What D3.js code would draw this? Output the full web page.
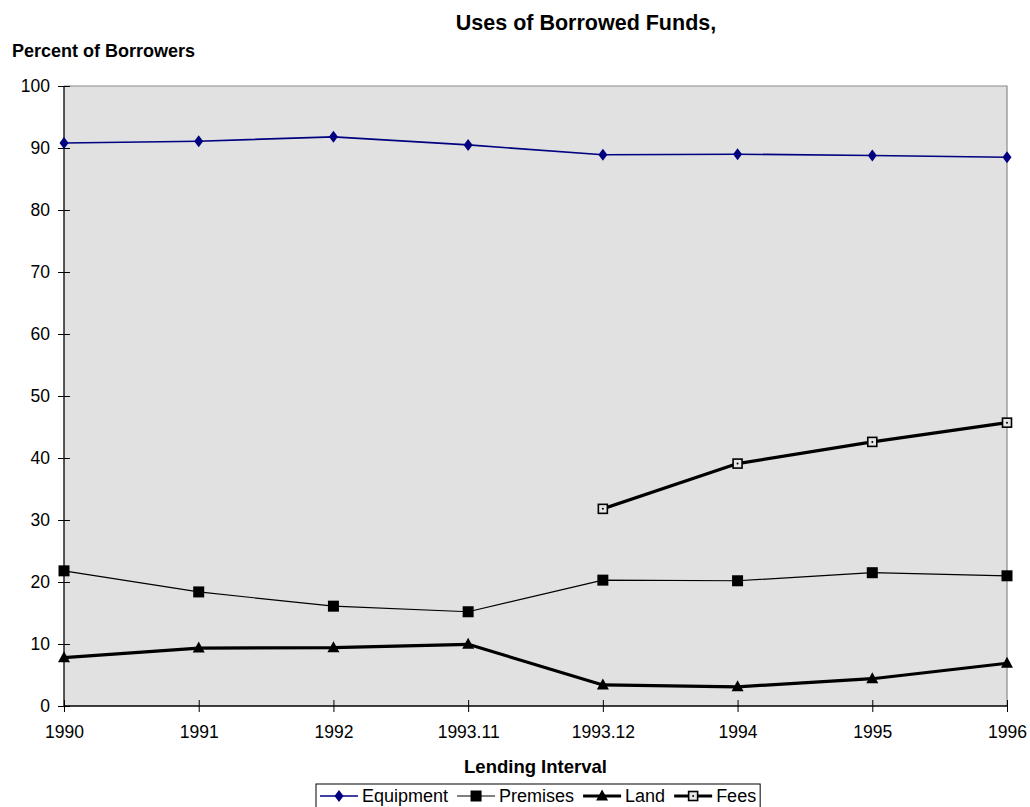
<!DOCTYPE html>
<html>
<head>
<meta charset="utf-8">
<script src="https://cdn.jsdelivr.net/npm/d3@7"></script>
<style>
  html, body { margin: 0; padding: 0; background: #ffffff; }
  svg { display: block; font-family: "Liberation Sans", Arial, sans-serif; }
</style>
</head>
<body>
<svg id="chart" width="1030" height="807"></svg>
<script>
// Lending intervals (category axis)
const intervals = ["1990", "1991", "1992", "1993.11", "1993.12", "1994", "1995", "1996"];

// Percent of borrowers using borrowed funds for each purpose
const equipment = [90.8, 91.1, 91.8, 90.5, 88.9, 89.0, 88.8, 88.5];
const premises  = [21.8, 18.4, 16.1, 15.2, 20.3, 20.2, 21.5, 21.0];
const land      = [7.8, 9.35, 9.4, 9.95, 3.4, 3.1, 4.4, 6.9];
const fees      = [null, null, null, null, 31.8, 39.1, 42.6, 45.7];

const yTicks = [0, 10, 20, 30, 40, 50, 60, 70, 80, 90, 100];

const series = [
  { name: "Equipment", values: equipment, color: "#000080", width: 1.6, marker: "diamond" },
  { name: "Premises",  values: premises,  color: "#000000", width: 1.2, marker: "square" },
  { name: "Land",      values: land,      color: "#000000", width: 3.2, marker: "triangle" },
  { name: "Fees",      values: fees,      color: "#000000", width: 3.2, marker: "openSquare" }
];

const svg = d3.select("#chart");
const plot = { left: 64, right: 1007, top: 86, bottom: 706 };

const x = d3.scalePoint().domain(intervals).range([plot.left, plot.right]);
const y = d3.scaleLinear().domain([0, 100]).range([plot.bottom, plot.top]);

// Plot area background and gray frame
svg.append("rect")
  .attr("x", plot.left).attr("y", plot.top)
  .attr("width", plot.right - plot.left).attr("height", plot.bottom - plot.top)
  .attr("fill", "#e1e1e1");
svg.append("path")
  .attr("d", `M${plot.left},${plot.top}H${plot.right}V${plot.bottom}`)
  .attr("fill", "none").attr("stroke", "#8a8a8a").attr("stroke-width", 1.2);

// Y axis
const yAxis = svg.append("g")
  .attr("transform", `translate(${plot.left},0)`)
  .call(d3.axisLeft(y).tickValues(yTicks).tickSize(6).tickPadding(8));
yAxis.selectAll(".tick line").attr("x2", 6).attr("x1", -6).attr("stroke", "#000");
yAxis.select(".domain").attr("d", `M0,${plot.top}V${plot.bottom}`).attr("stroke", "#000").attr("stroke-width", 1.3);
yAxis.selectAll("text").attr("font-size", 17.5).attr("fill", "#000")
  .attr("font-family", "Liberation Sans, Arial, sans-serif");

// X axis
const xAxis = svg.append("g")
  .attr("transform", `translate(0,${plot.bottom})`)
  .call(d3.axisBottom(x).tickSize(6).tickPadding(14));
xAxis.select(".domain").attr("d", `M${plot.left},0H${plot.right}`).attr("stroke", "#000").attr("stroke-width", 1.3);
xAxis.selectAll(".tick line").attr("y1", -6).attr("y2", 6).attr("stroke", "#000");
xAxis.selectAll("text").attr("font-size", 17.5).attr("fill", "#000")
  .attr("font-family", "Liberation Sans, Arial, sans-serif");

// Marker shapes
function drawMarker(g, type, cx, cy, color) {
  if (type === "diamond") {
    g.append("path")
      .attr("d", `M${cx},${cy - 6}L${cx + 4.5},${cy}L${cx},${cy + 6}L${cx - 4.5},${cy}Z`)
      .attr("fill", color);
  } else if (type === "square") {
    g.append("rect").attr("x", cx - 5.5).attr("y", cy - 5.5)
      .attr("width", 11).attr("height", 11).attr("fill", color);
  } else if (type === "triangle") {
    g.append("path")
      .attr("d", `M${cx},${cy - 6.5}L${cx + 6},${cy + 4.5}L${cx - 6},${cy + 4.5}Z`)
      .attr("fill", color);
  } else if (type === "openSquare") {
    g.append("rect").attr("x", cx - 4.5).attr("y", cy - 4.5)
      .attr("width", 9).attr("height", 9)
      .attr("fill", "#e6e6e6").attr("stroke", color).attr("stroke-width", 1.6);
    g.append("circle").attr("cx", cx).attr("cy", cy).attr("r", 1).attr("fill", color);
  }
}

// Series lines and markers
const line = d3.line()
  .defined(d => d.v !== null)
  .x(d => x(d.k))
  .y(d => y(d.v));

series.forEach(s => {
  const pts = intervals.map((k, i) => ({ k, v: s.values[i] }));
  svg.append("path")
    .datum(pts)
    .attr("d", line)
    .attr("fill", "none")
    .attr("stroke", s.color)
    .attr("stroke-width", s.width)
    .attr("stroke-linejoin", "round");
  const g = svg.append("g");
  pts.filter(p => p.v !== null).forEach(p => drawMarker(g, s.marker, x(p.k), y(p.v), s.color));
});

// Titles
svg.append("text")
  .attr("x", 586).attr("y", 30)
  .attr("text-anchor", "middle")
  .attr("font-size", 21.5).attr("font-weight", "bold")
  .text("Uses of Borrowed Funds,");

svg.append("text")
  .attr("x", 12).attr("y", 57)
  .attr("font-size", 18).attr("font-weight", "bold")
  .text("Percent of Borrowers");

svg.append("text")
  .attr("x", (plot.left + plot.right) / 2).attr("y", 773)
  .attr("text-anchor", "middle")
  .attr("font-size", 18.5).attr("font-weight", "bold")
  .text("Lending Interval");

// Legend
const legend = svg.append("g");
const legendBox = legend.append("rect")
  .attr("y", 784).attr("height", 30)
  .attr("fill", "#fff").attr("stroke", "#000").attr("stroke-width", 1);
let cursor = 0;
const items = legend.append("g");
const sampleLen = 38;
const itemGap = 9;
series.forEach(s => {
  const it = items.append("g").attr("transform", `translate(${cursor},0)`);
  it.append("line")
    .attr("x1", 0).attr("x2", sampleLen)
    .attr("y1", 796).attr("y2", 796)
    .attr("stroke", s.color).attr("stroke-width", s.width);
  drawMarker(it, s.marker, sampleLen / 2, 796, s.color);
  const t = it.append("text")
    .attr("x", sampleLen + 4).attr("y", 802)
    .attr("font-size", 18)
    .text(s.name);
  cursor += sampleLen + 4 + t.node().getComputedTextLength() + itemGap;
});
const totalW = cursor - itemGap;
const boxX = 316;
legendBox.attr("x", boxX).attr("width", totalW + 8);
items.attr("transform", `translate(${boxX + 4},0)`);
</script>
</body>
</html>
